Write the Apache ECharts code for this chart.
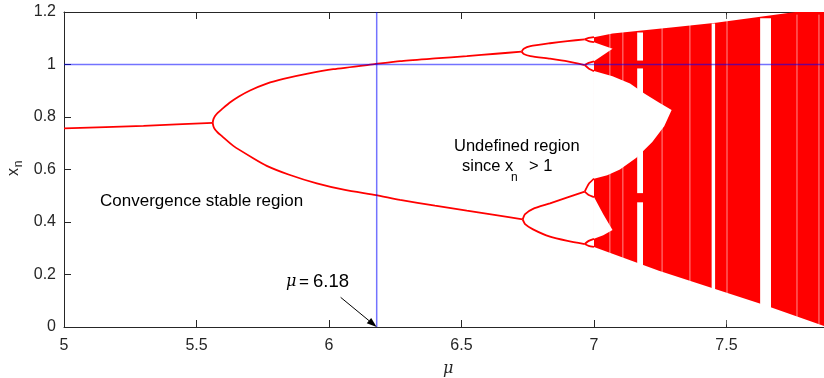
<!DOCTYPE html>
<html>
<head>
<meta charset="utf-8">
<script src="https://cdn.jsdelivr.net/npm/echarts@6/dist/echarts.min.js"></script>
<style>
  html, body { margin: 0; padding: 0; background: #fff; }
  #chart { width: 824px; height: 378px; }
</style>
</head>
<body>
<div id="chart"></div>
<script>
// axis ranges and ticks
const muMin = 5, muMax = 7.868;
const muTicks = [5, 5.5, 6, 6.5, 7, 7.5];
const xnMin = 0, xnMax = 1.2, xnStep = 0.2;

// stable branches [mu, x_n]
const fixedBranch = [[5, 0.757], [5.3, 0.766], [5.561, 0.778]];
const p2Upper = [[5.561, 0.778], [5.564, 0.792], [5.57, 0.804], [5.58, 0.816], [5.595, 0.829], [5.626, 0.855],
  [5.66, 0.878], [5.702, 0.901], [5.765, 0.927], [5.828, 0.945], [5.92, 0.965], [6.016, 0.982], [6.177, 1.002],
  [6.268, 1.013], [6.4, 1.023], [6.52, 1.032], [6.63, 1.041], [6.727, 1.049]];
const p2Lower = [[5.561, 0.778], [5.564, 0.764], [5.57, 0.752], [5.58, 0.741], [5.595, 0.728], [5.639, 0.690],
  [5.714, 0.643], [5.765, 0.614], [5.85, 0.580], [5.954, 0.547], [6.06, 0.522], [6.177, 0.502], [6.268, 0.484],
  [6.4, 0.462], [6.52, 0.443], [6.63, 0.426], [6.731, 0.410]];
const p4a = [[6.727, 1.049], [6.735, 1.060], [6.76, 1.070], [6.834, 1.081], [6.9, 1.089], [6.965, 1.096]];
const p4b = [[6.727, 1.049], [6.735, 1.040], [6.76, 1.032], [6.834, 1.022], [6.9, 1.012], [6.965, 0.998]];
const p4c = [[6.731, 0.410], [6.74, 0.430], [6.77, 0.450], [6.834, 0.471], [6.9, 0.494], [6.965, 0.516]];
const p4d = [[6.731, 0.410], [6.74, 0.392], [6.77, 0.372], [6.834, 0.344], [6.9, 0.328], [6.965, 0.316]];
const p8 = [
  [[6.965, 1.096], [6.98, 1.101], [7.0, 1.104]], [[6.965, 1.096], [6.98, 1.089], [7.0, 1.085]],
  [[6.965, 0.998], [6.98, 1.006], [7.0, 1.012]], [[6.965, 0.998], [6.98, 0.985], [7.0, 0.975]],
  [[6.965, 0.516], [6.98, 0.545], [7.0, 0.565]], [[6.965, 0.516], [6.98, 0.503], [7.0, 0.495]],
  [[6.965, 0.316], [6.98, 0.328], [7.0, 0.336]], [[6.965, 0.316], [6.98, 0.309], [7.0, 0.305]]
];

// chaotic band outline and the white holes inside it
const bandTop = [[7.0, 1.104], [7.07, 1.118], [7.3, 1.142], [7.46, 1.159], [7.6, 1.178], [7.76, 1.2], [7.868, 1.2]];
const bandBottom = [[7.868, 0.004], [7.64, 0.085], [7.245, 0.214], [7.0, 0.305]];
const gapUpper = [[7.0, 1.085], [7.07, 1.06], [7.0, 1.012]];
const gapMiddle = [[7.0, 0.975], [7.07, 0.955], [7.136, 0.928], [7.19, 0.89], [7.245, 0.855], [7.293, 0.827],
  [7.265, 0.765], [7.22, 0.705], [7.16, 0.645], [7.098, 0.60], [7.05, 0.578], [7.0, 0.565]];
const gapLower = [[7.0, 0.495], [7.035, 0.43], [7.07, 0.37], [7.035, 0.35], [7.0, 0.336]];
// periodic windows: [mu0, mu1, x0, x1]
const windows = [
  [7.163, 7.185, 0.20, 0.475], [7.163, 7.185, 0.51, 0.985], [7.163, 7.185, 1.015, 1.122],
  [7.444, 7.457, 0.10, 1.156], [7.627, 7.668, 0.03, 1.176]
];
const faintWindows = [7.06, 7.109, 7.257, 7.362, 7.502, 7.766, 7.849];

// reference lines and the arrow pointing at mu = 6.18
const refMu = 6.18;
const refXn = 1;
const arrowFrom = [6.044, 0.113];
const arrowTo = [refMu, 0];

const rect = w => [[w[0], w[2]], [w[1], w[2]], [w[1], w[3]], [w[0], w[3]]];
const shapes = [
  { pts: bandTop.concat(bandBottom), fill: '#ff0000' },
  { pts: gapUpper, fill: '#ffffff' },
  { pts: gapMiddle, fill: '#ffffff' },
  { pts: gapLower, fill: '#ffffff' }
].concat(windows.map(w => ({ pts: rect(w), fill: '#ffffff' })));

const red = '#ff0000';
const branchSeries = [fixedBranch, p2Upper, p2Lower, p4a, p4b, p4c, p4d].concat(p8).map(d => ({
  type: 'line',
  data: d,
  smooth: 0.2,
  symbol: 'none',
  z: 4,
  lineStyle: { color: red, width: 1.8 }
}));

const axisColor = '#262626';
const font = size => size + 'px "Liberation Sans"';
const txt = (x, y, text, size, extra) => ({
  type: 'text', x: x, y: y,
  style: Object.assign({ text: text, font: font(size), fill: '#000', verticalAlign: 'middle', textVerticalAlign: 'middle' }, extra || {})
});

const chart = echarts.init(document.getElementById('chart'));

chart.setOption({
  animation: false,
  grid: { left: 64, right: 0, top: 12, bottom: 51 },
  xAxis: [{
    type: 'value', min: muMin, max: muMax,
    axisLine: { lineStyle: { color: axisColor, width: 1 } },
    axisTick: { inside: true, length: 7, customValues: muTicks, lineStyle: { color: axisColor } },
    axisLabel: { customValues: muTicks, color: axisColor, fontSize: 16, fontFamily: 'Liberation Sans', margin: 11 },
    splitLine: { show: false }
  }, {
    type: 'value', position: 'top', min: muMin, max: muMax,
    axisLine: { lineStyle: { color: axisColor, width: 1 } },
    axisTick: { inside: true, length: 7, customValues: muTicks, lineStyle: { color: axisColor } },
    axisLabel: { show: false },
    splitLine: { show: false }
  }],
  yAxis: {
    type: 'value', min: xnMin, max: xnMax, interval: xnStep,
    axisLine: { show: true, lineStyle: { color: axisColor, width: 1 } },
    axisTick: { show: true, inside: true, length: 7, lineStyle: { color: axisColor } },
    axisLabel: { color: axisColor, fontSize: 16, fontFamily: 'Liberation Sans', margin: 8 },
    splitLine: { show: false }
  },
  graphic: [
    txt(100, 201, 'Convergence stable region', 17),
    txt(454, 146, 'Undefined region', 16.5),
    txt(462, 166, 'since x', 16.5),
    txt(511, 178, 'n', 12),
    txt(529, 166, '> 1', 16.5),
    txt(286, 282, 'μ', 16, { font: 'italic 16px "DejaVu Serif"' }),
    txt(299, 282, '=', 17),
    txt(313, 282, '6.18', 18.5),
    txt(443, 369, 'μ', 16, { font: 'italic 16px "DejaVu Serif"', fill: axisColor }),
    {
      type: 'group', x: 14, y: 172, rotation: Math.PI / 2,
      children: [
        { type: 'text', x: 0, y: 0, style: { text: 'x', font: font(16), fill: axisColor, align: 'center', textAlign: 'center', verticalAlign: 'middle', textVerticalAlign: 'middle' } },
        { type: 'text', x: 8, y: 5, style: { text: 'n', font: font(12), fill: axisColor, align: 'center', textAlign: 'center', verticalAlign: 'middle', textVerticalAlign: 'middle' } }
      ]
    }
  ],
  series: [{
    type: 'custom',
    z: 2,
    data: shapes.map((s, i) => [i]),
    renderItem: (params, api) => ({
      type: 'polygon',
      shape: { points: shapes[params.dataIndex].pts.map(p => api.coord(p)) },
      style: { fill: shapes[params.dataIndex].fill }
    })
  }, {
    type: 'custom',
    z: 3,
    data: faintWindows.map(m => [m]),
    renderItem: (params, api) => {
      const a = api.coord([faintWindows[params.dataIndex], 0.01]);
      const b = api.coord([faintWindows[params.dataIndex], 1.19]);
      return {
        type: 'line',
        shape: { x1: a[0], y1: a[1], x2: b[0], y2: b[1] },
        style: { stroke: 'rgba(255,255,255,0.55)', lineWidth: 1 }
      };
    }
  }].concat(branchSeries).concat([{
    type: 'line',
    data: [[muMin, refXn], [muMax, refXn]],
    symbol: 'none',
    z: 5,
    lineStyle: { color: 'rgba(0,0,255,0.55)', width: 1.5 }
  }, {
    type: 'line',
    data: [[refMu, xnMin], [refMu, xnMax]],
    symbol: 'none',
    z: 5,
    lineStyle: { color: 'rgba(0,0,255,0.55)', width: 1.5 }
  }, {
    type: 'custom',
    z: 6,
    clip: false,
    data: [[arrowFrom[0], arrowFrom[1]]],
    renderItem: (params, api) => {
      const a = api.coord(arrowFrom);
      const b = api.coord(arrowTo);
      const dx = b[0] - a[0], dy = b[1] - a[1];
      const len = Math.sqrt(dx * dx + dy * dy);
      const ux = dx / len, uy = dy / len;
      const hl = 10, hw = 3.5;
      const bx = b[0] - ux * hl, by = b[1] - uy * hl;
      return {
        type: 'group',
        children: [{
          type: 'line',
          shape: { x1: a[0], y1: a[1], x2: bx, y2: by },
          style: { stroke: '#000', lineWidth: 1 }
        }, {
          type: 'polygon',
          shape: { points: [b, [bx - uy * hw, by + ux * hw], [bx + uy * hw, by - ux * hw]] },
          style: { fill: '#000' }
        }]
      };
    }
  }])
});
</script>
</body>
</html>
